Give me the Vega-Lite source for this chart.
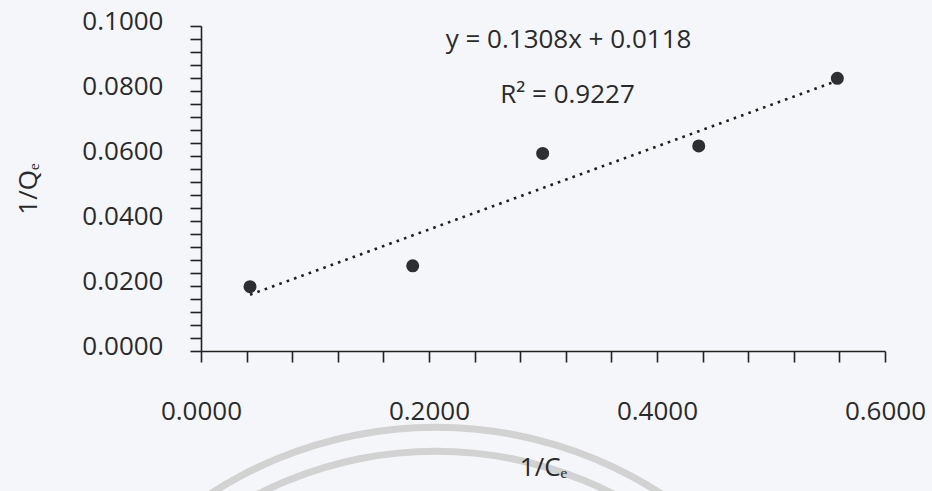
{
  "$schema": "https://vega.github.io/schema/vega-lite/v6.json",
  "width": 684,
  "height": 325,
  "autosize": {"type": "none"},
  "padding": {"left": 201, "top": 26, "right": 47, "bottom": 140},
  "background": "#f4f6f9",
  "config": {"view": {"stroke": null}, "font": "Open Sans"},
  "datasets": {
    "points": [
      {"x": 0.0430, "y": 0.0198},
      {"x": 0.1857, "y": 0.0262},
      {"x": 0.2997, "y": 0.0608},
      {"x": 0.4366, "y": 0.0631},
      {"x": 0.5582, "y": 0.0839}
    ],
    "annotations": [
      {"x": 0.3224, "y": 0.0957, "text": "y = 0.1308x + 0.0118"},
      {"x": 0.3215, "y": 0.0788, "text": "R² = 0.9227"}
    ],
    "watermark": [{"x": 0.206, "y": -0.151}]
  },
  "encoding": {
    "x": {
      "field": "x",
      "type": "quantitative",
      "title": "1/Cₑ",
      "scale": {"domain": [0, 0.6], "nice": false, "zero": false},
      "axis": {
        "zindex": 1,
        "values": [0, 0.04, 0.08, 0.12, 0.16, 0.2, 0.24, 0.28, 0.32, 0.36, 0.4, 0.44, 0.48, 0.52, 0.56, 0.6],
        "labelExpr": "abs(datum.value*5 - round(datum.value*5)) < 0.001 ? format(datum.value, '.4f') : ''",
        "labelFlush": false,
        "labelOverlap": false,
        "grid": false,
        "domainColor": "#222222",
        "domainWidth": 1.6,
        "tickColor": "#222222",
        "tickWidth": 1.6,
        "tickSize": 11,
        "labelPadding": 36,
        "labelFontSize": 26,
        "labelColor": "#2a2a2a",
        "titleFontSize": 26,
        "titleFontWeight": "normal",
        "titleColor": "#2a2a2a",
        "titlePadding": 30
      }
    },
    "y": {
      "field": "y",
      "type": "quantitative",
      "title": "1/Qₑ",
      "scale": {"domain": [0, 0.1], "nice": false, "zero": false},
      "axis": {
        "zindex": 1,
        "values": [0, 0.004, 0.008, 0.012, 0.016, 0.02, 0.024, 0.028, 0.032, 0.036, 0.04, 0.044, 0.048, 0.052, 0.056, 0.06, 0.064, 0.068, 0.072, 0.076, 0.08, 0.084, 0.088, 0.092, 0.096, 0.1],
        "labelExpr": "abs(datum.value*50 - round(datum.value*50)) < 0.001 ? format(datum.value, '.4f') : ''",
        "labelOverlap": false,
        "labelFlush": false,
        "grid": false,
        "domainColor": "#222222",
        "domainWidth": 1.6,
        "tickColor": "#222222",
        "tickWidth": 1.6,
        "tickSize": 11,
        "labelPadding": 27,
        "labelOffset": -5,
        "labelFontSize": 26,
        "labelColor": "#2a2a2a",
        "titleFontSize": 26,
        "titleFontWeight": "normal",
        "titleColor": "#2a2a2a",
        "titlePadding": 40
      }
    }
  },
  "layer": [
    {
      "data": {"name": "watermark"},
      "mark": {"type": "arc", "radius": 418, "radius2": 411, "theta": 0, "theta2": 6.2832, "fill": "#d2d2d2"}
    },
    {
      "data": {"name": "watermark"},
      "mark": {"type": "arc", "radius": 394, "radius2": 387, "theta": 0, "theta2": 6.2832, "fill": "#d2d2d2"}
    },
    {
      "data": {"name": "points"},
      "transform": [{"regression": "y", "on": "x"}],
      "mark": {"type": "line", "color": "#1e1e1e", "strokeWidth": 2.6, "strokeDash": [2.6, 5.2]}
    },
    {
      "data": {"name": "points"},
      "mark": {"type": "point", "filled": true, "shape": "circle", "size": 170, "color": "#2e2f33", "opacity": 1}
    },
    {
      "data": {"name": "annotations"},
      "mark": {"type": "text", "fontSize": 26, "color": "#2a2a2a", "align": "center", "baseline": "middle"},
      "encoding": {"text": {"field": "text"}}
    }
  ]
}
